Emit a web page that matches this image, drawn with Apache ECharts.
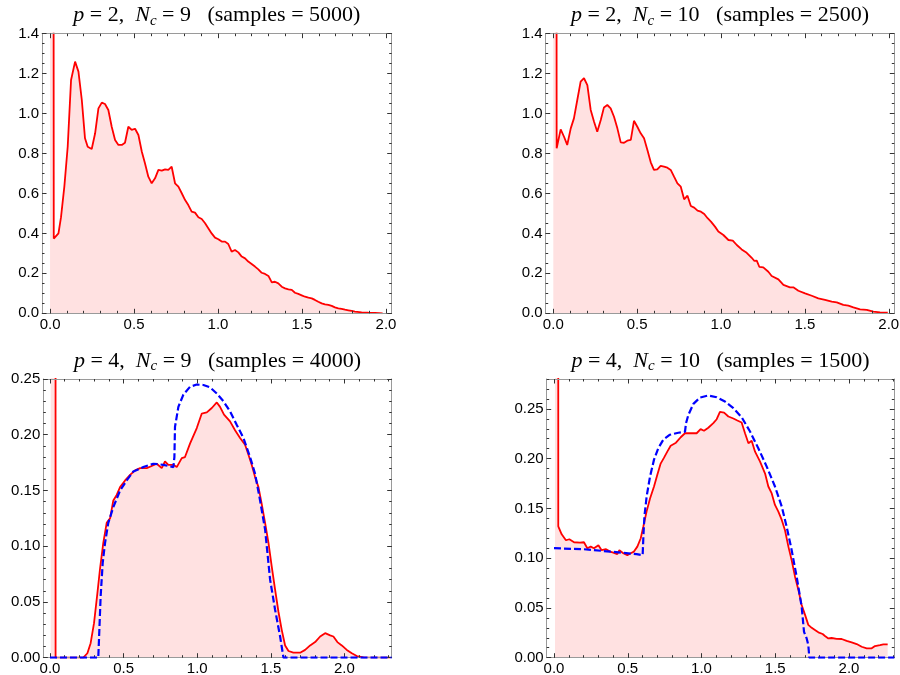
<!DOCTYPE html>
<html><head><meta charset="utf-8">
<script src="https://cdn.jsdelivr.net/npm/echarts@6/dist/echarts.min.js"></script>
<style>html,body{margin:0;padding:0;background:#fff}#c{width:900px;height:675px}</style>
</head><body><div id="c"></div>
<script>
// ---- tick values ----
const xMajor = [0, 0.5, 1.0, 1.5, 2.0];
const xMinorA = [0,0.1,0.2,0.3,0.4,0.5,0.6,0.7,0.8,0.9,1.0,1.1,1.2,1.3,1.4,1.5,1.6,1.7,1.8,1.9,2.0];
const xMinorB = [0,0.1,0.2,0.3,0.4,0.5,0.6,0.7,0.8,0.9,1.0,1.1,1.2,1.3,1.4,1.5,1.6,1.7,1.8,1.9,2.0,2.1,2.2,2.3];
const yMajorA = [0, 0.2, 0.4, 0.6, 0.8, 1.0, 1.2, 1.4];
const yMinorA = [0,0.05,0.1,0.15,0.2,0.25,0.3,0.35,0.4,0.45,0.5,0.55,0.6,0.65,0.7,0.75,0.8,0.85,0.9,0.95,1.0,1.05,1.1,1.15,1.2,1.25,1.3,1.35,1.4];
const yMajorB = [0, 0.05, 0.10, 0.15, 0.20, 0.25];
const yMinorB = [0,0.01,0.02,0.03,0.04,0.05,0.06,0.07,0.08,0.09,0.10,0.11,0.12,0.13,0.14,0.15,0.16,0.17,0.18,0.19,0.20,0.21,0.22,0.23,0.24,0.25];
const yMinorC = [0,0.01,0.02,0.03,0.04,0.05,0.06,0.07,0.08,0.09,0.10,0.11,0.12,0.13,0.14,0.15,0.16,0.17,0.18,0.19,0.20,0.21,0.22,0.23,0.24,0.25,0.26,0.27,0.28];

// ---- titles ----
const titleP = ['2', '2', '4', '4'];
const titleNc = ['9', '10', '9', '10'];
const titleSamples = ['5000', '2500', '4000', '1500'];

// ---- panel 1: p=2, Nc=9 ----
const p1x = [0.0,0.022,0.05,0.065,0.085,0.105,0.125,0.149,0.169,0.189,0.208,0.224,0.248,0.268,0.288,0.308,0.327,0.347,0.367,0.387,0.407,0.427,0.446,0.466,0.486,0.506,0.526,0.546,0.565,0.585,0.605,0.625,0.645,0.665,0.685,0.704,0.724,0.744,0.764,0.784,0.804,0.823,0.843,0.863,0.883,0.903,0.923,0.942,0.962,0.982,1.002,1.022,1.042,1.061,1.081,1.101,1.121,1.141,1.161,1.18,1.2,1.22,1.24,1.26,1.28,1.3,1.32,1.339,1.359,1.379,1.399,1.419,1.439,1.458,1.478,1.498,1.518,1.538,1.558,1.577,1.597,1.617,1.637,1.657,1.677,1.696,1.716,1.736,1.756,1.776,1.796,1.815,1.855,1.895,1.935,1.98];
const p1y = [30,0.374,0.40,0.48,0.634,0.834,1.168,1.26,1.21,1.068,0.876,0.834,0.823,0.90,1.026,1.055,1.048,1.018,0.934,0.868,0.843,0.843,0.854,0.934,0.918,0.924,0.893,0.81,0.751,0.684,0.651,0.676,0.718,0.714,0.721,0.718,0.734,0.651,0.634,0.601,0.567,0.542,0.509,0.504,0.481,0.472,0.451,0.426,0.40,0.379,0.371,0.359,0.359,0.347,0.309,0.317,0.305,0.284,0.275,0.259,0.247,0.234,0.22,0.203,0.197,0.187,0.155,0.158,0.15,0.133,0.125,0.12,0.117,0.103,0.097,0.09,0.083,0.078,0.075,0.067,0.058,0.05,0.045,0.042,0.037,0.03,0.025,0.022,0.018,0.015,0.012,0.008,0.005,0.003,0.002,0.0];

// ---- panel 2: p=2, Nc=10 ----
const p2x = [0.0,0.02,0.044,0.064,0.083,0.104,0.123,0.143,0.163,0.183,0.203,0.223,0.243,0.262,0.283,0.302,0.322,0.342,0.362,0.382,0.402,0.422,0.441,0.462,0.481,0.501,0.521,0.541,0.561,0.581,0.6,0.62,0.64,0.66,0.68,0.7,0.72,0.74,0.76,0.78,0.8,0.82,0.84,0.86,0.88,0.9,0.92,0.94,0.964,0.984,1.014,1.044,1.07,1.094,1.123,1.153,1.183,1.199,1.213,1.228,1.252,1.282,1.302,1.342,1.372,1.411,1.431,1.461,1.501,1.541,1.58,1.62,1.66,1.69,1.729,1.759,1.789,1.829,1.869,1.908,1.948,1.994];
const p2y = [30,0.826,0.921,0.884,0.843,0.926,0.976,1.068,1.16,1.177,1.143,1.018,0.959,0.909,0.968,1.031,1.043,1.026,0.984,0.926,0.856,0.854,0.864,0.868,0.964,0.934,0.901,0.876,0.818,0.756,0.718,0.721,0.738,0.734,0.729,0.718,0.684,0.651,0.634,0.571,0.589,0.537,0.529,0.514,0.509,0.497,0.476,0.459,0.434,0.409,0.392,0.367,0.364,0.342,0.32,0.303,0.278,0.262,0.264,0.233,0.23,0.208,0.187,0.17,0.142,0.13,0.13,0.113,0.1,0.088,0.075,0.067,0.058,0.055,0.042,0.038,0.03,0.02,0.017,0.008,0.005,0.003];

// ---- panel 3: p=4, Nc=9 ----
const p3x = [0.005,0.038,0.226,0.254,0.276,0.299,0.322,0.34,0.362,0.385,0.408,0.43,0.453,0.476,0.51,0.544,0.578,0.612,0.657,0.691,0.725,0.759,0.781,0.804,0.838,0.861,0.895,0.917,0.951,0.997,1.031,1.065,1.099,1.133,1.155,1.182,1.223,1.257,1.291,1.325,1.348,1.37,1.393,1.416,1.438,1.461,1.484,1.506,1.529,1.552,1.574,1.597,1.62,1.653,1.699,1.733,1.767,1.801,1.835,1.869,1.903,1.925,1.952,1.982,2.016,2.05,2.084,2.129,2.31];
const p3y = [30,0,0,0.004,0.013,0.031,0.058,0.080,0.103,0.121,0.125,0.141,0.146,0.153,0.159,0.164,0.168,0.170,0.170,0.172,0.174,0.170,0.176,0.173,0.173,0.171,0.179,0.180,0.192,0.206,0.219,0.22,0.224,0.229,0.225,0.218,0.212,0.204,0.197,0.191,0.182,0.173,0.162,0.153,0.138,0.121,0.103,0.082,0.061,0.041,0.025,0.011,0.006,0.0045,0.0045,0.007,0.011,0.014,0.019,0.022,0.020,0.019,0.014,0.011,0.007,0.004,0.0015,0.0003,0];
const p3bx = [0,0.328,0.335,0.344,0.358,0.374,0.396,0.43,0.476,0.521,0.566,0.634,0.702,0.77,0.838,0.845,0.849,0.872,0.906,0.951,0.997,1.042,1.087,1.133,1.178,1.223,1.268,1.314,1.359,1.393,1.427,1.461,1.495,1.529,1.563,1.581,1.586,2.32];
const p3by = [0,0,0.001,0.055,0.085,0.103,0.121,0.135,0.150,0.159,0.167,0.171,0.174,0.173,0.171,0.180,0.207,0.225,0.236,0.243,0.245,0.2446,0.2425,0.237,0.230,0.221,0.209,0.197,0.180,0.165,0.141,0.115,0.070,0.043,0.019,0.004,0,0];

// ---- panel 4: p=4, Nc=10 ----
const p4x = [0.007,0.029,0.052,0.081,0.104,0.136,0.176,0.203,0.226,0.249,0.271,0.301,0.323,0.353,0.38,0.402,0.429,0.443,0.47,0.497,0.52,0.542,0.565,0.588,0.606,0.628,0.651,0.678,0.7,0.723,0.746,0.768,0.791,0.827,0.859,0.888,0.922,0.967,0.994,1.017,1.046,1.08,1.103,1.125,1.153,1.182,1.216,1.243,1.272,1.295,1.318,1.34,1.363,1.397,1.431,1.453,1.476,1.498,1.521,1.544,1.566,1.589,1.611,1.634,1.657,1.679,1.702,1.724,1.747,1.769,1.792,1.821,1.837,1.86,1.882,1.916,1.95,1.984,2.018,2.052,2.086,2.12,2.154,2.176,2.21,2.233,2.244,2.262];
const p4y = [30,0.132,0.124,0.118,0.119,0.116,0.1156,0.116,0.110,0.1116,0.110,0.113,0.108,0.109,0.1066,0.1056,0.104,0.108,0.105,0.103,0.105,0.1066,0.1116,0.12,0.132,0.147,0.160,0.172,0.1836,0.195,0.201,0.207,0.213,0.216,0.2215,0.2255,0.2255,0.2255,0.2296,0.228,0.231,0.2356,0.2396,0.247,0.2463,0.2423,0.2403,0.2383,0.2363,0.2255,0.2155,0.218,0.207,0.197,0.185,0.172,0.165,0.1535,0.1468,0.1384,0.128,0.1116,0.098,0.0814,0.068,0.053,0.043,0.033,0.030,0.0278,0.0255,0.0238,0.0218,0.0194,0.0198,0.019,0.0188,0.017,0.0154,0.0137,0.011,0.0094,0.0094,0.0117,0.0127,0.0134,0.0124,0.0134];
const p4bx = [0,0.199,0.38,0.56,0.601,0.606,0.613,0.628,0.651,0.678,0.707,0.741,0.786,0.843,0.888,0.895,0.911,0.945,0.99,1.046,1.103,1.159,1.216,1.272,1.329,1.385,1.442,1.498,1.544,1.577,1.611,1.645,1.679,1.695,1.713,1.724,1.731,2.307];
const p4by = [0.110,0.109,0.1066,0.104,0.103,0.122,0.142,0.162,0.182,0.199,0.2105,0.219,0.224,0.226,0.227,0.2356,0.244,0.255,0.2614,0.2634,0.2617,0.2574,0.2507,0.2416,0.2272,0.2105,0.192,0.172,0.1518,0.1317,0.1082,0.0814,0.0513,0.026,0.0194,0.0127,0,0];

// ---- build ----
const FRAME = '#9a9a9a', TICK = '#333', LBL = '#000';
const RED = '#ff0000', FILL = '#ffe1e1', BLUE = '#0000ff';
function pairs(xs, ys) { return xs.map((x, i) => [x, ys[i]]); }

const panels = [
  {grid:{left:42, top:33.7, width:349.7, height:279.6}, xmin:-0.048, xmax:2.034, ymin:0, ymax:1.4,
   xMaj:xMajor, xMin:xMinorA, yMaj:yMajorA, yMin:yMinorA, yDec:1, red:pairs(p1x,p1y), blue:null},
  {grid:{left:545.7, top:33.7, width:348.6, height:279.6}, xmin:-0.0453, xmax:2.033, ymin:0, ymax:1.4,
   xMaj:xMajor, xMin:xMinorA, yMaj:yMajorA, yMin:yMinorA, yDec:1, red:pairs(p2x,p2y), blue:null},
  {grid:{left:43.3, top:379, width:348.4, height:278.7}, xmin:-0.0455, xmax:2.321, ymin:0, ymax:0.25,
   xMaj:xMajor, xMin:xMinorB, yMaj:yMajorB, yMin:yMinorB, yDec:2, red:pairs(p3x,p3y), blue:pairs(p3bx,p3by)},
  {grid:{left:546.7, top:379, width:347.6, height:278.7}, xmin:-0.0495, xmax:2.307, ymin:0, ymax:0.28,
   xMaj:xMajor, xMin:xMinorB, yMaj:yMajorB, yMin:yMinorC, yDec:2, red:pairs(p4x,p4y), blue:pairs(p4bx,p4by)}
];

const grids = [], xAxes = [], yAxes = [], series = [], graphics = [];
const labelFont = {fontFamily:'Liberation Sans, Arial, sans-serif', fontSize:15, color:LBL};
const SERIF = 'Liberation Serif, Times New Roman, serif';

panels.forEach((p, gi) => {
  grids.push(Object.assign({outerBoundsMode:'none', containLabel:false}, p.grid));
  const xb = {gridIndex:gi, type:'value', min:p.xmin, max:p.xmax, z:5, splitLine:{show:false}, silent:true};
  const yb = {gridIndex:gi, type:'value', min:p.ymin, max:p.ymax, z:5, splitLine:{show:false}, silent:true};
  const frameLine = {show:true, onZero:false, lineStyle:{color:FRAME, width:1}};
  const noLine = {show:false, onZero:false};
  xAxes.push(
    Object.assign({}, xb, {position:'bottom', axisLine:frameLine,
      axisTick:{show:true, inside:true, length:4.5, customValues:p.xMaj, lineStyle:{color:TICK, width:1}},
      axisLabel:Object.assign({show:true, customValues:p.xMaj, margin:4, formatter:v => v.toFixed(1)}, labelFont)}),
    Object.assign({}, xb, {position:'bottom', axisLine:noLine,
      axisTick:{show:true, inside:true, length:2.5, customValues:p.xMin, lineStyle:{color:TICK, width:1}},
      axisLabel:{show:false}}),
    Object.assign({}, xb, {position:'top', axisLine:frameLine,
      axisTick:{show:true, inside:true, length:4.5, customValues:p.xMaj, lineStyle:{color:TICK, width:1}},
      axisLabel:{show:false}}),
    Object.assign({}, xb, {position:'top', axisLine:noLine,
      axisTick:{show:true, inside:true, length:2.5, customValues:p.xMin, lineStyle:{color:TICK, width:1}},
      axisLabel:{show:false}})
  );
  yAxes.push(
    Object.assign({}, yb, {position:'left', axisLine:frameLine,
      axisTick:{show:true, inside:true, length:4.5, customValues:p.yMaj, lineStyle:{color:TICK, width:1}},
      axisLabel:Object.assign({show:true, customValues:p.yMaj, margin:3, formatter:v => v.toFixed(p.yDec)}, labelFont)}),
    Object.assign({}, yb, {position:'left', axisLine:noLine,
      axisTick:{show:true, inside:true, length:2.5, customValues:p.yMin, lineStyle:{color:TICK, width:1}},
      axisLabel:{show:false}}),
    Object.assign({}, yb, {position:'right', axisLine:frameLine,
      axisTick:{show:true, inside:true, length:4.5, customValues:p.yMaj, lineStyle:{color:TICK, width:1}},
      axisLabel:{show:false}}),
    Object.assign({}, yb, {position:'right', axisLine:noLine,
      axisTick:{show:true, inside:true, length:2.5, customValues:p.yMin, lineStyle:{color:TICK, width:1}},
      axisLabel:{show:false}})
  );
  series.push({type:'line', xAxisIndex:gi*4, yAxisIndex:gi*4, data:p.red, symbol:'none', showSymbol:false,
    clip:true, silent:true, z:2, lineStyle:{color:RED, width:1.8}, areaStyle:{color:FILL, opacity:1}});
  if (p.blue) {
    series.push({type:'line', xAxisIndex:gi*4, yAxisIndex:gi*4, data:p.blue, symbol:'none', showSymbol:false,
      clip:true, silent:true, z:8, lineStyle:{color:BLUE, width:2.2, type:[7,3]}});
  }
  const cx = p.grid.left + p.grid.width / 2;
  const cy = p.grid.top - 18;
  graphics.push({type:'text', x:cx, y:cy, silent:true, z:10,
    style:{
      text:'{i|p}{r| = ' + titleP[gi] + ',  }{i|N}{s|c}{r| = ' + titleNc[gi] + '   (samples = ' + titleSamples[gi] + ')}',
      align:'center', verticalAlign:'middle', fill:'#000',
      rich:{
        i:{fontFamily:SERIF, fontStyle:'italic', fontSize:22, lineHeight:26, verticalAlign:'middle', fill:'#000'},
        r:{fontFamily:SERIF, fontSize:22, lineHeight:26, verticalAlign:'middle', fill:'#000'},
        s:{fontFamily:SERIF, fontStyle:'italic', fontSize:15, lineHeight:15, verticalAlign:'bottom', fill:'#000'}
      }
    }});
});

const chart = echarts.init(document.getElementById('c'), null, {renderer:'canvas'});
chart.setOption({
  animation:false,
  backgroundColor:'#ffffff',
  grid:grids, xAxis:xAxes, yAxis:yAxes, series:series, graphic:graphics
});
</script>
</body></html>
